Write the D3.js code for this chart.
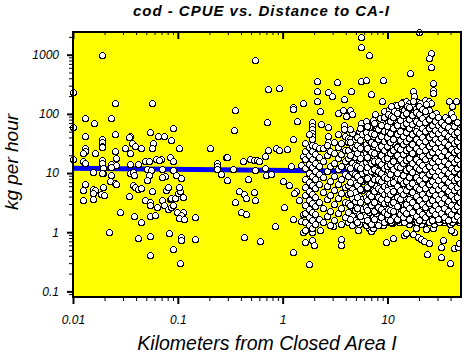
<!DOCTYPE html>
<html><head><meta charset="utf-8">
<script src="https://cdn.jsdelivr.net/npm/d3@7"></script>
<style>
html,body{margin:0;padding:0;background:#fff;}
svg{display:block;}
text{font-family:"Liberation Sans",Arial,sans-serif;}
</style></head>
<body><svg id="c" width="474" height="356"></svg>
<script>
// ---- data (km from Closed Area I, kg per hour) ----
const titleText = "cod - CPUE vs. Distance to CA-I";
const xLabel = "Kilometers from Closed Area I";
const yLabel = "kg per hour";
const xMajorTicks = [0.01, 0.1, 1, 10];
const xMinorTicks = [0.02,0.03,0.04,0.05,0.06,0.07,0.08,0.09,0.2,0.3,0.4,0.5,0.6,0.7,0.8,0.9,2,3,4,5,6,7,8,9,20,30,40];
const yMajorTicks = [0.1, 1, 10, 100, 1000];
const yMinorTicks = [0.09,0.2,0.3,0.4,0.5,0.6,0.7,0.8,0.9,2,3,4,5,6,7,8,9,20,30,40,50,60,70,80,90,200,300,400,500,600,700,800,900,2000];
const xDomain = [0.01, 50.3];
const yDomain = [0.0804, 2420];
const trendKm = [0.01, 50];
const trendKg = [12, 10.3];

// individually read points
const sparsePoints = [
[0.019,1000],[0.01,230],[0.025,150],[0.057,155],[0.013,84],[0.016,70],[0.023,85],[0.01,59],[0.013,42],[0.019,38],[0.019,34],[0.019,29],[0.0188,27.5],[0.025,45],[0.035,42],[0.034,40],[0.0365,32],[0.039,29],[0.0545,50],[0.0578,31.8],[0.064,42],[0.074,43],[0.089,58],[0.086,36],[0.102,26],[0.202,27],[0.291,18.4],[0.013,26.5],[0.013,24],[0.0124,22],[0.0163,21.8],[0.025,23.6],[0.026,18],[0.0315,26.5],[0.035,22],[0.0447,26],[0.057,26],[0.0485,15.7],[0.0526,16],[0.0614,17.3],[0.0684,17.3],[0.0655,16.4],[0.0833,19],[0.089,15.7],[0.234,14.8],[0.01,17.3],[0.0124,15.7],[0.013,14.8],[0.0188,16.3],[0.0188,14.8],[0.0229,14.4],[0.026,13.9],[0.035,14.4],[0.042,14.2],
[0.0229,12.6],[0.0195,12.1],[0.0195,10],[0.0188,10],[0.0154,10.6],[0.07,11.8],[0.089,11.4],[0.0349,10.2],[0.0374,10.4],[0.0383,9.4],[0.051,11.7],[0.055,11.4],[0.053,9.1],[0.051,7.7],[0.0755,9],[0.07,8.6],[0.096,9.4],[0.108,8.2],[0.234,13],[0.234,11.8],[0.26,9.7],[0.295,7.7],[0.013,6.6],[0.0124,5.1],[0.0154,5.35],[0.0162,5.1],[0.0154,4.6],[0.0194,5.8],[0.0187,4.5],[0.0197,4.2],[0.0124,3.5],[0.0154,3.7],[0.0225,7.2],[0.025,6.9],[0.026,6.6],[0.0229,9.1],[0.0374,6.3],[0.039,5.9],[0.042,5.35],[0.045,5.6],[0.0344,4.1],[0.057,4.9],[0.0485,3.5],[0.054,3.2],[0.054,2.9],[0.07,3.5],[0.077,5.2],[0.081,5.8],[0.084,3.6],[0.087,3.77],[0.094,3.77],[0.101,4.6],[0.105,4.9],[0.103,5.9],[0.112,3.9],[0.063,2.7],[0.074,2.9],[0.08,2.45],[0.087,2.7],[0.09,2.9],[0.098,2.23],[0.112,2.23],[0.108,1.96],[0.102,1.73],[0.114,1.68],[0.145,1.8],[0.028,2.2],[0.0383,1.89],[0.0445,1.51],[0.054,1.89],[0.06,1.96],[0.0219,1.0],[0.042,0.79],[0.054,0.86],[0.083,0.96],[0.108,0.82],[0.108,0.74],[0.145,0.78],[0.089,0.52],[0.054,0.42],[0.104,0.305],
[0.355,117],[0.347,54],[0.295,18.7],[0.419,16.2],[0.485,17.3],[0.533,16.3],[0.574,16.8],[0.59,15.7],[0.336,11.7],[0.297,7.7],[0.54,11.4],[0.675,12.1],[0.70,9.3],[0.78,9.7],[0.47,7.9],[0.381,5.07],[0.43,4.46],[0.446,3.77],[0.35,3.3],[0.53,4.76],[0.54,3.44],[0.404,2.23],[0.446,2.02],[0.425,0.84],[0.61,0.72],[0.715,72],[0.675,19.6],[0.725,24.8],[0.87,27],[0.916,24.8],[0.54,800],[0.72,260],[0.916,272],[1.0,7.2],[1.16,6.3],[1.34,4.9],[1.29,4.6],[1.44,3.5],[1.02,2.7],[1.26,1.68],[0.85,1.25],[1.57,2.04],[1.5,1.55],[1.57,1.0],[1.26,0.47],[1.62,0.69],[1.9,0.74],[2.0,0.6],[1.78,0.29],[2.29,1.1],[3.0,1.25],[3.6,0.76],[3.6,0.61],[5.2,1.1],[6.7,1.17],[7.0,1.03],[1.21,13.3],[1.49,13.8],[1.26,131],[1.26,123],[1.57,151],[1.37,77],[1.11,25.6],[1.57,19.6],[1.26,37],
[5.6,2000],[5.6,1350],[6.6,970],[2.14,362],[3.3,348],[5.6,362],[6.2,380],[9.1,380],[2.13,239],[2.7,236],[2.95,199],[4.5,245],[7.0,215],[2.13,168],[3.84,179],[8.96,166],[2.29,114],[3.36,104],[3.75,118],[3.98,93.5],[4.35,118],[4.57,101],[7.6,98],[9.2,111],[2.3,67.7],[20,2450],[26,1080],[24.8,890],[26,620],[16.4,495],[27,335],[27,258],[27,227],[17.4,242],[18.1,199],[13.8,157],[15.1,164],[16.2,154],[23,175],[25.1,164],[24.2,144],[26,154],[38.4,164],[45,164],[41.3,138],[11.7,144],[40.4,104],
[9.36,2.9],[9.5,2.1],[9.5,1.84],[11.2,2.24],[11.7,1.62],[11.1,1.42],[9.7,0.69],[11.4,0.79],[14.5,0.9],[15.1,0.96],[17.4,0.94],[19.5,0.82],[20.9,0.76],[22.5,0.71],[25.1,0.67],[18.8,1.17],[23.3,1.12],[27,1.17],[23.7,0.43],[32.4,0.57],[32.4,0.385],[39.8,0.305],[43.5,0.54],[46.8,0.57],[47.9,0.65],[43.5,1.02],[40,1.1],[33.6,0.74],
[1.9,72],[1.9,62],[1.9,54.5],[1.9,47.6],[1.9,42],[1.9,37],[2.7,60],[2.7,43],[2.7,34],[3.84,66],[3.84,54.5],[3.9,42],[4.2,39],[4.35,37.7],[4.96,43],[5.0,37],[5.65,70],[5.65,58],[5.65,40.6],[7.25,67.7],[7.8,58],[8.4,50.7],[8.7,54.5],[7.0,39],[7.5,34],[8.1,42],[9.0,37]
];

// dense cloud, read column by column: [km, [kg values]]
const denseColumns = [
[1.65,[1.1,1.5,2.1,2.9,4.2,5.8,8,12,17,24,32]],
[1.78,[1.3,1.8,2.5,3.5,5,7,10,14,20,28,45]],
[1.92,[1.0,1.2,1.6,2.2,3.1,4.4,6.2,8.8,12.5,17,24,30]],
[2.05,[1.4,2.0,2.8,3.9,5.5,7.8,11,15,21,29]],
[2.2,[1.7,3.3,6.5,9.5,13,19,26]],
[2.45,[1.5,2.6,4.8,8.5,16,27]],
[2.65,[1.9,3.6,6,11,20,30]],
[2.85,[1.3,2.3,4.3,7.2,13,24]],
[3.1,[1.6,3,5.2,9,15,22,33]],
[3.35,[2.1,3.8,6.5,11.5,18,28,45]],
[3.6,[1.4,2.6,4.6,8,13,21,32]],
[3.9,[1.8,3.3,5.8,9.5,16,25]],
[4.2,[1.5,2.2,3.1,4.4,6.3,9,12.5,18,25,33]],
[4.55,[1.3,1.9,2.7,3.8,5.3,7.5,10.5,15,21,29,48]],
[4.9,[1.6,2.4,3.4,4.8,6.8,9.5,13.5,19,27,38]],
[5.3,[1.4,2.0,2.9,4.1,5.8,8.2,11.5,16.5,23,32,52]],
[5.75,[1.7,2.5,3.6,5.1,7.2,10,14,20,28,45]],
[6.2,[1.3,1.9,2.7,3.9,5.5,7.8,11,15.5,22,31,50,75]],
[6.7,[1.5,2.2,3.2,4.5,6.4,9,12.5,17.5,25,36,60]],
[7.2,[1.2,1.8,2.6,3.7,5.2,7.3,10.3,14.5,20.5,29,42,80]],
[7.8,[1.4,2.1,3,4.3,6,8.5,12,17,24,34,65]],
[8.4,[1.6,2.4,3.4,4.8,6.8,9.6,13.5,19,27,40,85]],
[9.0,[1.3,1.9,2.7,3.8,5.4,7.6,10.7,15,21.5,31,48,72]],
[9.7,[1.5,2.3,3.1,4.0,5.7,7.4,10.5,13.5,19.5,25,36,47,70]],
[10.4,[1.9,2.7,3.6,4.9,6.4,9,12,16,23,31,40,58,85,120]],
[11.2,[1.6,2.1,3.0,4.3,5.5,7.8,10,14.5,18.5,27,35,50,66,100]],
[12.0,[1.8,2.5,3.4,4.7,6.6,8.6,12.4,16.5,22,30,43,55,78,125]],
[12.9,[1.5,2.2,2.9,4.1,5.8,7.5,10.6,14,19,26.5,37,48,68,92]],
[13.8,[1.9,2.6,3.7,5.0,6.4,9.2,12,16.8,23,31,42,60,82,110]],
[14.8,[1.6,2.3,3.2,4.2,5.9,7.9,10.8,14.5,20,27,36,52,70,130]],
[15.9,[1.4,2.0,2.8,3.8,5.1,6.9,9.4,12.8,17.5,24,32,44,60,86,115]],
[17.0,[1.7,2.4,3.3,4.5,6.2,8.2,11.2,15.5,21,28.5,39,54,74,100,140]],
[18.3,[1.5,2.1,3.0,4.0,5.5,7.4,10,13.8,19,25.5,35,47,64,90,122]],
[19.6,[1.8,2.6,3.5,4.8,6.6,8.9,12.2,16.5,22.5,30.5,42,58,80,108,160]],
[21.0,[1.4,2.0,2.8,3.9,5.3,7.2,9.8,13.3,18,24.5,33.5,45,62,84,115]],
[22.5,[1.7,2.4,3.2,4.4,6.0,8.1,11,15,20.5,28,38,52,71,96,135]],
[24.2,[1.5,2.2,3.0,4.1,5.6,7.6,10.3,14,19.2,26,35.5,48,66,89,120]],
[26.0,[1.8,2.5,3.5,4.7,6.4,8.7,11.8,16,21.8,29.7,40.5,55,75,102]],
[27.9,[1.4,2.0,2.7,3.7,5.0,6.8,9.3,12.6,17.2,23.4,31.8,43,59,80]],
[29.9,[1.6,2.3,3.2,4.3,5.9,8.0,10.8,14.8,20,27.2,37,50,68,92]],
[32.0,[1.9,2.6,3.6,4.9,6.7,9.1,12.4,16.8,22.8,31,42,57,78]],
[34.4,[1.5,2.1,2.9,4.0,5.4,7.3,10,13.6,18.5,25,34,46,63,85]],
[36.9,[1.7,2.4,3.3,4.5,6.1,8.3,11.3,15.4,21,28.5,38.6,52,72]],
[39.6,[1.4,2.0,2.8,3.8,5.2,7.0,9.5,13,17.7,24,32.6,44,60]],
[42.5,[1.6,2.3,3.1,4.2,5.8,7.9,10.7,14.5,19.8,27,36.6,50,68,90]],
[45.6,[1.8,2.6,3.5,4.8,6.5,8.8,12,16.3,22.2,30,41,55]],
[48.5,[1.5,2.1,2.9,4.0,5.5,7.4,10.1,13.7,18.7,25.4,34.5,47]]
];
// second pass over the dense cloud (in-between tows)
const denseColumns2 = [
[4.35,[1.7,2.9,4.6,7,12,20,34,55]],
[5.1,[1.5,2.6,3.9,6.2,8.9,13,22,30,41]],
[5.5,[1.9,3.3,5.3,7.6,12.2,18,26,36,58]],
[6.45,[1.6,2.4,3.5,5.9,8.4,12.8,19,27,40,62]],
[6.95,[1.4,2.9,4.1,6.9,10.8,15,23,33,48]],
[7.5,[1.7,2.3,3.3,4.9,7.8,11.5,16,22,31,45,70]],
[8.1,[1.3,2.7,3.9,5.6,8,11,15.8,26,37,55]],
[8.7,[1.8,2.5,3.6,5.1,7.2,9.9,14.2,20,29,43,64]],
[9.3,[1.5,2.2,3.1,4.4,6.1,8.5,12.3,17.5,25,35,52,88]],
[10.05,[1.7,2.5,3.3,4.5,6.1,8.3,11.3,15.2,21,28,38,52,72,100]],
[10.8,[1.5,2.2,3.0,4.2,5.9,8.0,10.9,14.8,20.1,27.3,37.1,50.4,68.5,93,135]],
[11.6,[1.8,2.6,3.6,4.9,6.8,9.3,12.7,17.3,23.5,32,43.5,59,80,110]],
[12.45,[1.6,2.3,3.2,4.4,6.1,8.3,11.2,15.3,20.8,28.3,38.5,52.4,71,97,140]],
[13.35,[1.7,2.4,3.4,4.6,6.3,8.6,11.6,15.8,21.5,29.2,39.7,54,73.4,100,150]],
[14.3,[1.5,2.1,2.9,4.0,5.4,7.4,10.1,13.7,18.6,25.3,34.4,46.8,63.6,86.5,118]],
[15.35,[1.8,2.5,3.4,4.6,6.3,8.6,11.7,15.9,21.6,29.4,40,54.4,74,100,136]],
[16.45,[1.6,2.2,3.0,4.1,5.6,7.6,10.3,14.1,19.1,26,35.4,48.1,65.4,89,125]],
[17.65,[1.9,2.6,3.5,4.8,6.5,8.9,12.1,16.4,22.3,30.4,41.3,56.2,76.4,104,165]],
[18.95,[1.5,2.0,2.8,3.8,5.2,7.0,9.6,13,17.7,24.1,32.7,44.5,60.5,82.3,112]],
[20.3,[1.7,2.4,3.2,4.4,6.0,8.1,11.1,15,20.4,27.8,37.8,51.4,70,95,150]],
[21.75,[1.6,2.2,3.0,4.1,5.5,7.5,10.2,13.9,18.9,25.7,35,47.6,64.7,88,128]],
[23.35,[1.8,2.5,3.4,4.6,6.3,8.5,11.6,15.8,21.5,29.2,39.7,54,73.4,100,145]],
[25.1,[1.5,2.1,2.9,3.9,5.3,7.2,9.8,13.4,18.2,24.7,33.6,45.7,62.2,84.6,115]],
[26.9,[1.7,2.3,3.2,4.3,5.9,8.0,10.9,14.8,20.1,27.4,37.2,50.6,68.8,93.6]],
[28.9,[1.9,2.6,3.5,4.8,6.5,8.8,12,16.3,22.2,30.2,41,55.8,75.9,103]],
[30.9,[1.5,2.0,2.8,3.8,5.1,7.0,9.5,12.9,17.5,23.8,32.4,44,59.9,81.5]],
[33.2,[1.7,2.3,3.1,4.3,5.8,7.9,10.7,14.6,19.9,27,36.8,50,68]],
[35.6,[1.6,2.2,3.0,4.1,5.6,7.6,10.3,14,19,25.9,35.2,47.9,65.1,88]],
[38.2,[1.8,2.5,3.4,4.6,6.2,8.5,11.5,15.7,21.3,29,39.4,53.6,73]],
[41.0,[1.5,2.1,2.9,3.9,5.3,7.2,9.8,13.3,18.1,24.6,33.5,45.5,62]],
[44.0,[1.7,2.4,3.2,4.4,6.0,8.1,11,15,20.4,27.7,37.7,51.3,70]],
[47.0,[1.6,2.2,3.0,4.1,5.5,7.5,10.2,13.9,18.9,25.7,35,47.6]]
];
// third pass: the heaviest overlap zone beyond ~10 km
const denseColumns3 = [
[9.9,[2.0,3.7,5.2,8.1,13.1,18.2,29,41,62]],
[10.6,[1.6,2.4,4.4,6.9,9.5,14,21.5,33,48,77]],
[11.4,[2.3,3.2,5.0,7.1,11.8,16.2,24.8,38,57,90]],
[12.2,[1.7,2.8,3.9,6.0,9.9,13.2,19.8,27.5,45,64,105]],
[13.1,[2.0,3.6,5.1,7.9,12.7,17.6,25.3,36,52,79]],
[14.0,[1.8,2.4,4.4,6.8,9.4,14.8,21,30.5,43,66,96]],
[15.0,[2.1,3.0,5.1,7.2,11.4,16.8,24.4,35,49,71,104]],
[16.1,[1.7,2.6,3.7,6.0,8.7,12.2,18.3,26.6,39,57,82,130]],
[17.3,[2.2,3.2,4.7,6.9,10.4,14.7,22,31.5,46,67,94]],
[18.6,[1.9,2.8,4.1,5.9,8.6,12.8,17.4,26.7,37,52,76,108]],
[19.9,[1.6,2.3,3.5,5.3,7.7,11.6,15.3,23.8,33,48,69,98,135]],
[21.4,[2.0,3.0,4.4,6.6,9.1,13.6,19.6,28.3,41,58,86,120]],
[23.0,[1.8,2.7,3.8,5.5,8.3,11.9,17.2,24.3,35,51,73,110]],
[24.7,[2.1,3.1,4.6,6.6,9.5,13.1,19.9,28.6,40,57,82]],
[26.4,[1.6,2.4,3.5,5.1,7.4,10.9,15.2,22.5,32,46,65,95]],
[28.4,[2.0,2.9,4.2,6.2,8.9,12.6,18.3,26.1,37,53,76]],
[30.4,[1.7,2.5,3.7,5.4,7.7,11,15.9,22.8,33,47,66,88]],
[32.7,[2.1,3.1,4.4,6.3,9.2,13.2,19.3,27.2,39,55,74]],
[35.0,[1.8,2.6,3.8,5.5,7.9,11.4,16.2,23.4,33,47,66]],
[37.5,[1.6,2.3,3.4,4.9,7.0,10.1,14.4,20.4,29.5,42,59,80]],
[40.3,[2.0,2.9,4.2,6.0,8.7,12.4,17.9,25.8,37,52]],
[43.2,[1.7,2.5,3.6,5.2,7.5,10.8,15.5,22.4,32,45,62]],
[46.3,[1.9,2.8,4.0,5.8,8.4,12,17.2,24.6,35,50,72]],
[49.2,[1.6,2.3,3.3,4.7,6.8,9.8,14,20.1,29,41]]
];

// ---- layout ----
const L = 73, R = 461, T = 32, B = 297;
const svg = d3.select("#c");
const x = d3.scaleLog().domain(xDomain).range([L, R]);
const y = d3.scaleLog().domain(yDomain).range([B, T]);

svg.append("rect").attr("x", L).attr("y", T).attr("width", R - L).attr("height", B - T).attr("fill", "#ffff00");

// trend line (under points)
svg.append("line")
  .attr("x1", x(trendKm[0])).attr("y1", y(trendKg[0]))
  .attr("x2", x(trendKm[1])).attr("y2", y(trendKg[1]))
  .attr("stroke", "#0000ff").attr("stroke-width", 5);

const pts = sparsePoints.slice();
[denseColumns, denseColumns2, denseColumns3].forEach(set =>
  set.forEach(([km, arr]) => arr.forEach(kg => pts.push([km, kg]))));

svg.append("clipPath").attr("id", "pc").append("rect")
  .attr("x", L - 4).attr("y", T - 4).attr("width", R - L + 4).attr("height", B - T + 8);

svg.append("g").attr("clip-path", "url(#pc)").selectAll("circle").data(pts).join("circle")
  .attr("cx", d => Math.round(x(d[0])) + 0.5).attr("cy", d => Math.round(y(d[1])) + 0.5).attr("r", 3)
  .attr("fill", "#fff").attr("stroke", "#000").attr("stroke-width", 1)
  .attr("shape-rendering", "crispEdges");

// frame
svg.append("rect").attr("x", L).attr("y", T).attr("width", R - L).attr("height", B - T)
  .attr("fill", "none").attr("stroke", "#000").attr("stroke-width", 2);

const fmt = d => String(d);
function styleAxis(g, w) {
  g.select(".domain").remove();
  g.selectAll(".tick line").attr("stroke", "#000").attr("stroke-width", w);
  g.selectAll(".tick text").attr("font-size", 12).attr("font-style", "italic").attr("fill", "#000")
    .attr("font-family", "'Liberation Sans', Arial, sans-serif");
}
// bottom
svg.append("g").attr("transform", `translate(0,${B})`)
  .call(d3.axisBottom(x).tickValues(xMinorTicks).tickSize(4).tickFormat(""))
  .call(g => styleAxis(g, 1));
svg.append("g").attr("transform", `translate(0,${B})`)
  .call(d3.axisBottom(x).tickValues(xMajorTicks).tickSize(7).tickPadding(11).tickFormat(fmt))
  .call(g => styleAxis(g, 2));
// top (inward)
svg.append("g").attr("transform", `translate(0,${T})`)
  .call(d3.axisTop(x).tickValues(xMinorTicks).tickSize(-3).tickFormat(""))
  .call(g => styleAxis(g, 1));
svg.append("g").attr("transform", `translate(0,${T})`)
  .call(d3.axisTop(x).tickValues(xMajorTicks).tickSize(-7).tickFormat(""))
  .call(g => styleAxis(g, 2));
// left
svg.append("g").attr("transform", `translate(${L},0)`)
  .call(d3.axisLeft(y).tickValues(yMinorTicks).tickSize(4).tickFormat(""))
  .call(g => styleAxis(g, 1));
svg.append("g").attr("transform", `translate(${L},0)`)
  .call(d3.axisLeft(y).tickValues(yMajorTicks).tickSize(6).tickPadding(8).tickFormat(fmt))
  .call(g => styleAxis(g, 2));

// titles
svg.append("text").attr("x", 261).attr("y", 16).attr("text-anchor", "middle")
  .attr("font-size", 15).attr("font-weight", "bold").attr("font-style", "italic")
  .attr("textLength", 256).attr("lengthAdjust", "spacing").text(titleText);
svg.append("text").attr("x", 267).attr("y", 350).attr("text-anchor", "middle")
  .attr("font-size", 19.5).attr("font-style", "italic").text(xLabel);
svg.append("text").attr("transform", "translate(18,162) rotate(-90)").attr("text-anchor", "middle")
  .attr("font-size", 19).attr("font-style", "italic").text(yLabel);
</script></body></html>
